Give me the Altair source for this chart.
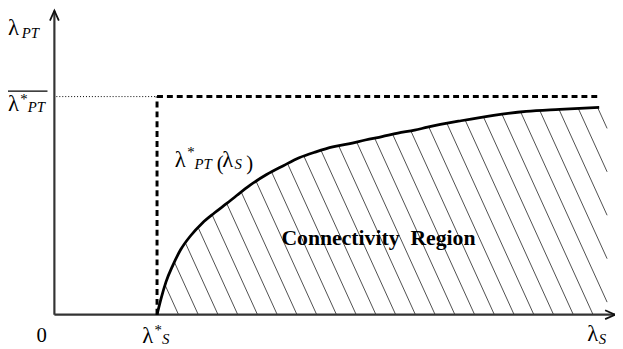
import altair as alt
import pandas as pd
import numpy as np

# ---- values (1 unit = 100 px, origin at the axes corner) ----
curve_x = [1.04, 1.08, 1.13, 1.20, 1.28, 1.38, 1.50, 1.62, 1.75, 1.85, 1.98, 2.15,
           2.32, 2.48, 2.65, 2.82, 2.98, 3.15, 3.32, 3.48, 3.65, 3.78, 4.12, 4.45,
           4.78, 5.12, 5.52]
curve_y = [0.00, 0.16, 0.33, 0.50, 0.66, 0.80, 0.93, 1.03, 1.13, 1.21, 1.31, 1.42,
           1.51, 1.59, 1.65, 1.70, 1.73, 1.77, 1.805, 1.84, 1.87, 1.90, 1.965, 2.02,
           2.06, 2.08, 2.10]
lambda_s_star = 1.04      # x position of lambda_S^*
lambda_pt_star = 2.21     # level of the upper bound  \bar{lambda}_PT^*
threshold_end = 5.53      # right end of the dashed bound
region_right = 5.60       # right edge of the hatched region

# ---- layout (not data) ----
X_DOM = [-0.47, 5.68]
Y_DOM = [-0.325, 3.085]
X_AXIS_END = 5.68
Y_AXIS_END = 3.08
HATCH_FIRST = 1.058
HATCH_STEP = 0.20
HATCH_SLOPE = 2.2

xs_ = alt.Scale(domain=X_DOM, nice=False, zero=False)
ys_ = alt.Scale(domain=Y_DOM, nice=False, zero=False)


def X(f):
    return alt.X(f, type="quantitative", scale=xs_, axis=None)


def Y(f):
    return alt.Y(f, type="quantitative", scale=ys_, axis=None)


# ---- hatch lines clipped to the region under the curve ----
cx = np.array(curve_x)
cy = np.array(curve_y)
ygrid = np.linspace(0, 2.4, 4801)
top_right = float(np.interp(region_right, cx, cy))
hatch = []
xb = HATCH_FIRST
while True:
    xb += HATCH_STEP
    if xb <= region_right:
        x_lo, y_lo = xb, 0.0
    else:
        x_lo, y_lo = region_right, (xb - region_right) * HATCH_SLOPE
    if y_lo >= top_right:
        break
    xl = xb - ygrid / HATCH_SLOPE
    g = np.interp(xl, cx, cy, left=0.0, right=cy[-1]) - ygrid
    ok = (ygrid > y_lo) & (g <= 0)
    if not ok.any():
        continue
    y_hi = float(ygrid[np.argmax(ok)])
    x_hi = xb - y_hi / HATCH_SLOPE
    if y_hi - y_lo > 0.02:
        hatch.append({"x": x_lo, "y": y_lo, "x2": x_hi, "y2": y_hi})
hatch_df = pd.DataFrame(hatch)

curve_df = pd.DataFrame({"x": curve_x, "y": curve_y})

hatch_layer = alt.Chart(hatch_df).mark_rule(color="#222", strokeWidth=0.8).encode(
    x=X("x"), y=Y("y"), x2="x2", y2="y2")

axes_df = pd.DataFrame({"x": [0.0, 0.0], "y": [0.0, 0.0],
                        "x2": [X_AXIS_END, 0.0], "y2": [0.0, Y_AXIS_END]})
axes_layer = alt.Chart(axes_df).mark_rule(color="#333", strokeWidth=2.2).encode(
    x=X("x"), y=Y("y"), x2="x2", y2="y2")

arrows_df = pd.DataFrame({"x": [X_AXIS_END, 0.0], "y": [0.0, Y_AXIS_END], "a": [0, 270]})
arrows_layer = alt.Chart(arrows_df).mark_point(
    shape="M-2,-0.9L0,0L-2,0.9", size=100, filled=False, color="#111",
    strokeWidth=1.8, opacity=1).encode(
    x=X("x"), y=Y("y"), angle=alt.Angle("a:Q", scale=None))

dash_df = pd.DataFrame({"x": [lambda_s_star, lambda_s_star], "y": [0.0, lambda_pt_star],
                        "x2": [lambda_s_star, threshold_end], "y2": [lambda_pt_star, lambda_pt_star]})
dash_layer = alt.Chart(dash_df).mark_rule(color="black", strokeWidth=3, strokeDash=[6, 4]).encode(
    x=X("x"), y=Y("y"), x2="x2", y2="y2")

dot_df = pd.DataFrame({"x": [0.02], "y": [lambda_pt_star], "x2": [lambda_s_star], "y2": [lambda_pt_star]})
dot_layer = alt.Chart(dot_df).mark_rule(color="black", strokeWidth=1, strokeDash=[1, 2]).encode(
    x=X("x"), y=Y("y"), x2="x2", y2="y2")

curve_layer = alt.Chart(curve_df).mark_line(color="black", strokeWidth=2.8, interpolate="monotone").encode(
    x=X("x"), y=Y("y"))

# overline of the bound label
over_df = pd.DataFrame({"x": [-0.47], "y": [2.265], "x2": [-0.07], "y2": [2.265]})
over_layer = alt.Chart(over_df).mark_rule(color="black", strokeWidth=1.2).encode(
    x=X("x"), y=Y("y"), x2="x2", y2="y2")

FONT = "Liberation Serif"

lam_txt = pd.DataFrame({
    "x": [-0.47, -0.47, lambda_s_star - 0.15, 5.40, 1.22, 1.70],
    "y": [2.835, 2.065, -0.285, -0.265, 1.495, 1.495],
    "t": ["λ", "λ", "λ", "λ", "λ", "λ"],
})
plain_txt = pd.DataFrame({
    "x": [-0.18, 1.645, 1.945],
    "y": [-0.275, 1.465, 1.465],
    "t": ["0", "(", ")"],
})
star_txt = pd.DataFrame({
    "x": [-0.345, lambda_s_star - 0.025, 1.345],
    "y": [2.135, -0.205, 1.595],
    "t": ["*", "*", "*"],
})
sub_txt = pd.DataFrame({
    "x": [-0.33, -0.27, lambda_s_star + 0.05, 5.515, 1.42, 1.825],
    "y": [2.805, 2.055, -0.295, -0.295, 1.475, 1.475],
    "t": ["PT", "PT", "S", "S", "PT", "S"],
})
region_txt = pd.DataFrame({"x": [2.30], "y": [0.71], "t": ["Connectivity\u00a0 Region"]})

lam_layer = alt.Chart(lam_txt).mark_text(
    font=FONT, fontSize=23, align="left", baseline="alphabetic", color="black").encode(
    x=X("x"), y=Y("y"), text="t:N")
plain_layer = alt.Chart(plain_txt).mark_text(
    font=FONT, fontSize=21, align="left", baseline="alphabetic", color="black").encode(
    x=X("x"), y=Y("y"), text="t:N")
star_layer = alt.Chart(star_txt).mark_text(
    font=FONT, fontSize=15, align="left", baseline="alphabetic", color="black").encode(
    x=X("x"), y=Y("y"), text="t:N")
sub_layer = alt.Chart(sub_txt).mark_text(
    font=FONT, fontSize=15, fontStyle="italic", align="left", baseline="alphabetic",
    color="black").encode(
    x=X("x"), y=Y("y"), text="t:N")
region_layer = alt.Chart(region_txt).mark_text(
    font=FONT, fontSize=22, fontWeight="bold", align="left", baseline="alphabetic", color="black").encode(
    x=X("x"), y=Y("y"), text="t:N")

chart = alt.layer(
    hatch_layer, axes_layer, arrows_layer, dot_layer, dash_layer, curve_layer,
    over_layer, lam_layer, plain_layer, star_layer, sub_layer, region_layer,
).properties(
    width=615, height=341, padding=0, autosize=alt.AutoSizeParams(type="none"),
    background="white",
).configure_view(stroke=None)

chart.save("out.html", embed_options={"renderer": "svg", "actions": False})
